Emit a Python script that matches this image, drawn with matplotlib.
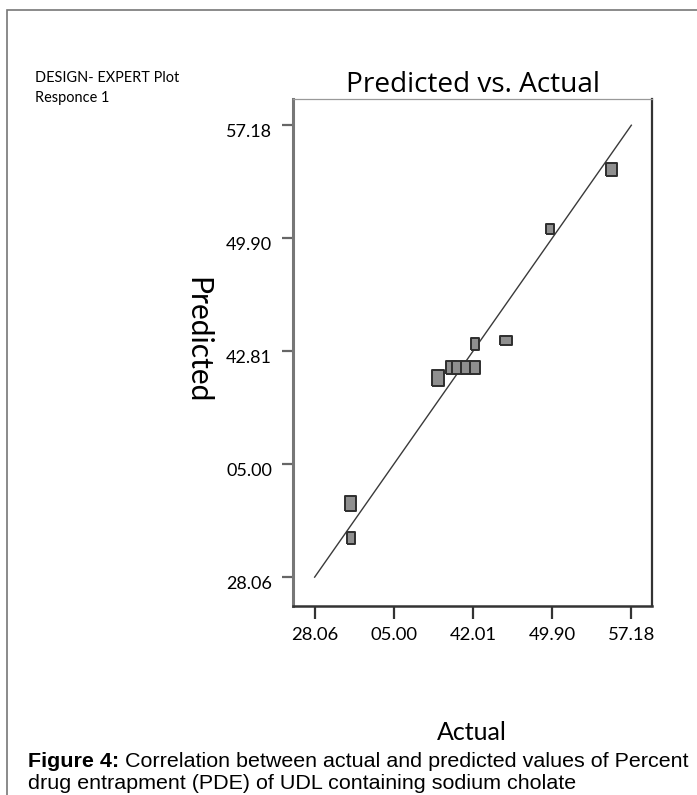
import matplotlib
matplotlib.use("Agg")
import matplotlib.pyplot as plt
import matplotlib.transforms as mtransforms
from matplotlib.patches import Rectangle

# data (axis units, ticks are evenly spaced)
actual = [55.33, 49.66, 45.65, 42.77, 40.62, 41.18, 42.00, 42.83, 39.40, 31.34, 31.40]
predicted = [54.39, 50.47, 43.34, 43.08, 41.58, 41.58, 41.58, 41.58, 40.87, 32.86, 30.59]
tick_vals = [28.06, 35.34, 42.62, 49.90, 57.18]
x_tick_labels = ["28.06", "05.00", "42.01", "49.90", "57.18"]
y_tick_labels = ["28.06", "05.00", "42.81", "49.90", "57.18"]

# marker box size (w, h) in pixels, one per point
marker_px = [(11, 13), (9, 10), (12, 9), (8, 12), (10, 13), (10, 13),
             (10, 13), (10, 13), (12, 16), (11, 15), (8, 12)]

myriad = ["Lato", "DejaVu Sans"]
title_font = ["Open Sans", "DejaVu Sans"]
arial = ["Liberation Sans", "DejaVu Sans"]

fig = plt.figure(figsize=(6.97, 7.95), dpi=100)
px = 0.72  # pixel -> point at dpi 100

# outer frame of the figure box
fig.add_artist(Rectangle((7 / 697, -0.05), 1.2, 1 - 10 / 795 + 0.05,
                         transform=fig.transFigure, fill=False,
                         edgecolor="#777777", linewidth=1.2))

ax = fig.add_axes([293 / 697, 1 - 606 / 795, 359 / 697, 507 / 795])

# fit line y = x
ax.plot([tick_vals[0], tick_vals[-1]], [tick_vals[0], tick_vals[-1]],
        color="#3a3a3a", linewidth=1.0, zorder=2)

for xv, yv, (w, h) in zip(actual, predicted, marker_px):
    verts = [(-w / 2, -h / 2), (w / 2, -h / 2), (w / 2, h / 2), (-w / 2, h / 2), (-w / 2, -h / 2)]
    ax.plot(xv, yv, marker=verts, markersize=max(w, h) * px,
            markerfacecolor="#8f8f8f", markeredgecolor="#2e2e2e",
            markeredgewidth=1.4, linestyle="none", zorder=3)

ax.set_xlim(26.07, 59.08)
ax.set_ylim(26.20, 58.87)
ax.set_xticks(tick_vals)
ax.set_xticklabels(x_tick_labels)
ax.set_yticks(tick_vals)
ax.set_yticklabels(y_tick_labels)

ax.tick_params(axis="x", direction="out", length=13 * px, width=1.6,
               color="#333333", pad=8 * px, labelsize=18.5 * px)
ax.tick_params(axis="y", direction="out", length=11 * px, width=1.6,
               color="#666666", pad=10 * px, labelsize=18 * px)
shift = mtransforms.ScaledTranslation(0, -5 / 100, fig.dpi_scale_trans)
for lab in ax.get_xticklabels():
    lab.set_family(myriad)
for lab in ax.get_yticklabels():
    lab.set_family(myriad)
    lab.set_transform(lab.get_transform() + shift)

ax.spines["left"].set_color("#777777")
ax.spines["left"].set_linewidth(2.2)
ax.spines["bottom"].set_color("#333333")
ax.spines["bottom"].set_linewidth(1.8)
ax.spines["right"].set_color("#333333")
ax.spines["right"].set_linewidth(1.6)
ax.spines["top"].set_color("#999999")
ax.spines["top"].set_linewidth(0.9)

# titles and labels
fig.text(473 / 697, 1 - 92 / 795, "Predicted vs. Actual", ha="center", va="baseline",
         fontsize=28 * px, family=title_font)
fig.text(35 / 697, 1 - 82 / 795, "DESIGN- EXPERT Plot", ha="left", va="baseline",
         fontsize=14.5 * px, family=myriad)
fig.text(35 / 697, 1 - 102 / 795, "Responce 1", ha="left", va="baseline",
         fontsize=14.5 * px, family=myriad)
fig.text(197 / 697, 1 - 340 / 795, "Predicted", ha="center", va="center",
         rotation=270, fontsize=30 * px, family=myriad)
fig.text(472 / 697, 1 - 733 / 795, "Actual", ha="center", va="center",
         fontsize=25 * px, family=myriad)

# caption, bold lead then regular text
cap_size = 21.5 * px
lead = fig.text(28 / 697, 1 - 767 / 795, "Figure 4:", ha="left", va="baseline",
                fontsize=cap_size, family=arial, weight="bold")
fig.canvas.draw()
lead_right = lead.get_window_extent(fig.canvas.get_renderer()).x1
fig.text(lead_right / fig.bbox.width + 6 / 697, 1 - 767 / 795,
         "Correlation between actual and predicted values of Percent",
         ha="left", va="baseline", fontsize=cap_size, family=arial)
fig.text(28 / 697, 1 - 789 / 795, "drug entrapment (PDE) of UDL containing sodium cholate",
         ha="left", va="baseline", fontsize=cap_size, family=arial)

fig.savefig("out.png", dpi=100)
plt.close(fig)
